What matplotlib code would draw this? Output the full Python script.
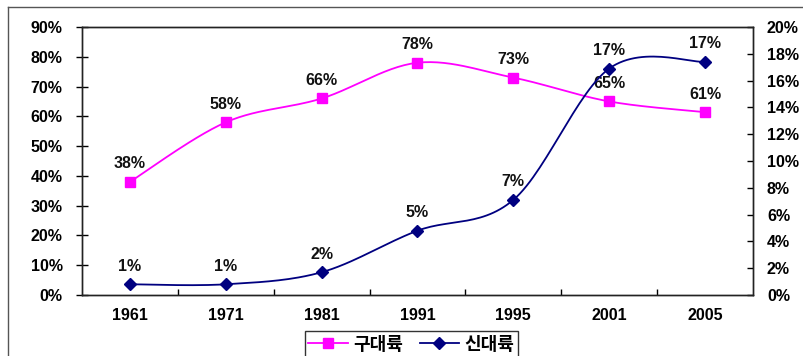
import numpy as np
import matplotlib
matplotlib.use("Agg")
import matplotlib.pyplot as plt
from matplotlib.lines import Line2D

years = ["1961", "1971", "1981", "1991", "1995", "2001", "2005"]
old_world = [38, 58, 66, 78, 73, 65, 61.4]      # 구대륙, left axis (%)
new_world = [0.8, 0.8, 1.7, 4.8, 7.1, 16.9, 17.4]  # 신대륙, right axis (%)
left_ticks = [0, 10, 20, 30, 40, 50, 60, 70, 80, 90]
right_ticks = [0, 2, 4, 6, 8, 10, 12, 14, 16, 18, 20]

PINK = "#FF00FF"
NAVY = "#000080"
plt.rcParams["font.family"] = ["Liberation Sans", "DejaVu Sans"]
FS = 11.5


def smooth(xs, ys, n=30):
    """Excel-style smoothed line: bezier segments with catmull-rom control points."""
    p = np.column_stack([xs, ys]).astype(float)
    pts = np.vstack([p[0], p, p[-1]])
    t = np.linspace(0, 1, n)[:, None]
    out = []
    for i in range(1, len(pts) - 2):
        p0, p1, p2, p3 = pts[i - 1], pts[i], pts[i + 1], pts[i + 2]
        c1 = p1 + (p2 - p0) / 6
        c2 = p2 - (p3 - p1) / 6
        seg = ((1 - t) ** 3) * p1 + 3 * ((1 - t) ** 2) * t * c1 \
            + 3 * (1 - t) * t ** 2 * c2 + t ** 3 * p2
        out.append(seg if i == 1 else seg[1:])
    out = np.vstack(out)
    return out[:, 0], out[:, 1]


fig = plt.figure(figsize=(8.04, 3.56), dpi=100)
ax = fig.add_axes([82 / 804, 61 / 356, 671 / 804, 268 / 356])
ax2 = ax.twinx()

x = np.arange(len(years))

sx, sy = smooth(x, old_world)
ax.plot(sx, sy, color=PINK, lw=1.3, zorder=3)
ax.plot(x, old_world, ls="none", marker="s", ms=7.5, color=PINK, zorder=4)
for xi, v in zip(x, old_world):
    ax.annotate(f"{v:.0f}%", (xi, v), xytext=(0, 13), textcoords="offset points",
                ha="center", va="center", fontsize=FS, fontweight="bold", color="#111111")

sx, sy = smooth(x, new_world)
ax2.plot(sx, sy, color=NAVY, lw=1.3, zorder=3)
ax2.plot(x, new_world, ls="none", marker="D", ms=6, color=NAVY, zorder=4)
for xi, v in zip(x, new_world):
    ax2.annotate(f"{v:.0f}%", (xi, v), xytext=(0, 13), textcoords="offset points",
                 ha="center", va="center", fontsize=FS, fontweight="bold", color="#111111")

ax.set_xlim(-0.5, len(years) - 0.5)
ax.set_ylim(0, 90)
ax2.set_ylim(0, 20)

ax.set_yticks(left_ticks)
ax.set_yticklabels([f"{t}%" for t in left_ticks], fontsize=FS, fontweight="bold")
ax.tick_params(axis="y", direction="inout", length=8, width=1, pad=10)

ax2.set_yticks(right_ticks)
ax2.set_yticklabels([f"{t}%" for t in right_ticks], fontsize=FS, fontweight="bold")
ax2.tick_params(axis="y", direction="in", length=4, width=1, pad=10)

ax.set_xticks(np.arange(len(years) - 1) + 0.5)
ax.set_xticklabels([])
ax.set_xticks(x, minor=True)
ax.set_xticklabels(years, minor=True, fontsize=FS, fontweight="bold")
ax.tick_params(axis="x", which="major", direction="in", length=4, width=1)
ax.tick_params(axis="x", which="minor", length=0, pad=9)

for a in (ax, ax2):
    for s in a.spines.values():
        s.set_color("#222222")
        s.set_linewidth(1)

# outer chart frame
fig.add_artist(Line2D([8 / 804, 8 / 804], [0, 1 - 7 / 356], color="#555555", lw=1))
fig.add_artist(Line2D([8 / 804, 1], [1 - 7 / 356, 1 - 7 / 356], color="#555555", lw=1))

handles = [
    Line2D([], [], color=PINK, lw=1.3, marker="s", ms=7.5),
    Line2D([], [], color=NAVY, lw=1.3, marker="D", ms=6),
]
leg = fig.legend(handles, ["구대륙", "신대륙"], loc="center", bbox_to_anchor=(411.5 / 804, 12 / 356),
                 ncol=2, frameon=True, fancybox=False, handlelength=2.2, handletextpad=0.3,
                 columnspacing=0.9, borderpad=0.2,
                 prop={"family": ["Noto Sans CJK KR", "DejaVu Sans"], "size": 13, "weight": "bold"})
leg.get_frame().set_edgecolor("black")
leg.get_frame().set_linewidth(1)

fig.savefig("out.png", dpi=100)
